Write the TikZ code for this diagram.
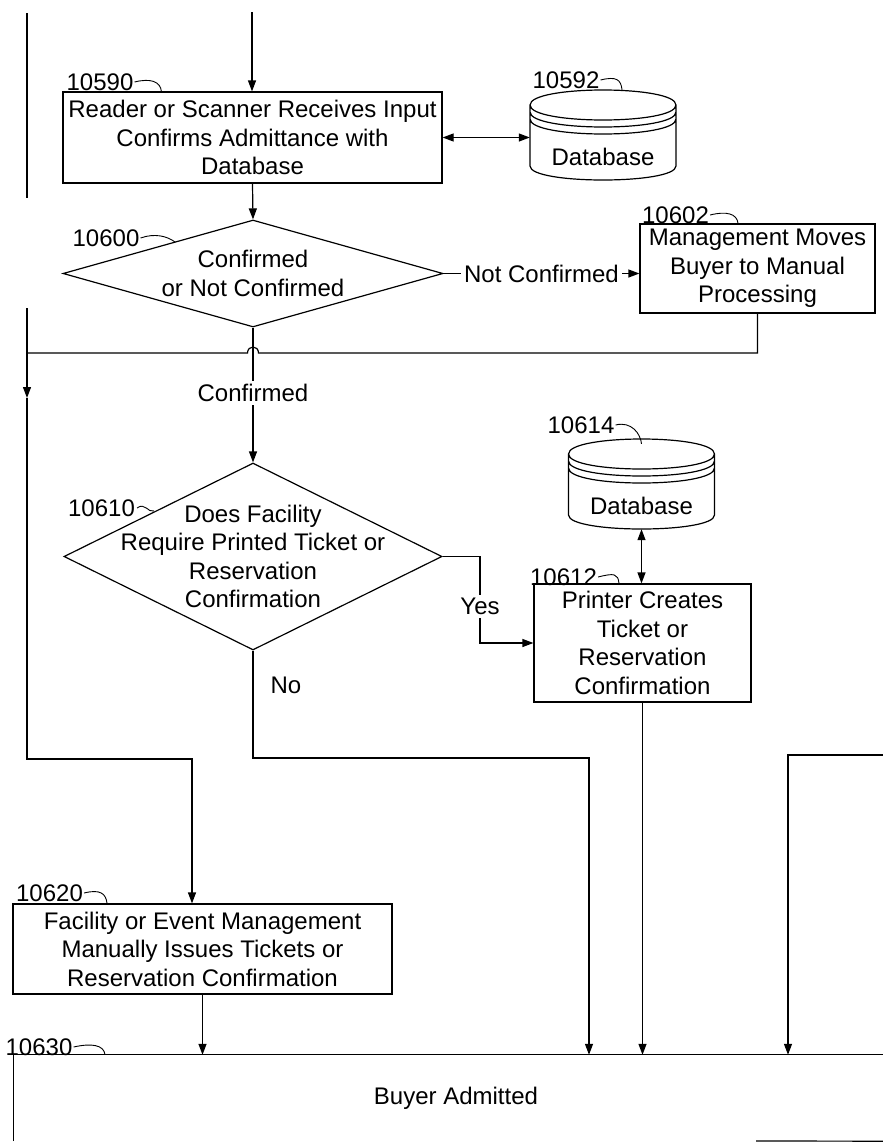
\documentclass[tikz,border=0pt]{standalone}
\usepackage{fontspec}
\setmainfont{Liberation Sans}
\usetikzlibrary{shapes.geometric,arrows.meta}
\begin{document}
\begin{tikzpicture}[x=1pt,y=-1pt,
  every node/.style={font=\fontsize{24}{28.5}\selectfont, inner sep=0pt},
  box/.style={draw, rectangle, line width=1.2pt, align=center},
  dia/.style={draw, diamond, line width=1.2pt, inner sep=0pt},
  ln/.style={line width=1.2pt},
  arr/.style={ln, -{Triangle[length=11pt,width=8pt]}},
  darr/.style={ln, {Triangle[length=11pt,width=8pt]}-{Triangle[length=11pt,width=8pt]}},
  curl/.style={line width=0.9pt},
  lab/.style={fill=white, inner sep=3pt},
  dbcyl/.pic={
    \draw[line width=1.2pt]
      (-73,-30) .. controls (-73,-50) and (73,-50) .. (73,-30)
      (-73,-30) .. controls (-73,-10) and (73,-10) .. (73,-30)
      (-73,-23) .. controls (-73,-3) and (73,-3) .. (73,-23)
      (-73,-16) .. controls (-73,4) and (73,4) .. (73,-16)
      (-73,-30) -- (-73,31)
      (73,-30) -- (73,31)
      (-73,31) .. controls (-73,49.67) and (73,49.67) .. (73,31);
  }
]
\useasboundingbox (0,0) rectangle (883,1143);
\fill[white] (0,0) rectangle (883,1143);

% boxes
\node[box, minimum width=379pt, minimum height=91pt] (b590) at (252.5,137.5)
  {Reader or Scanner Receives Input\\Confirms Admittance with\\Database};
\node[box, minimum width=235pt, minimum height=89pt] (b602) at (757.5,268.5)
  {Management Moves\\Buyer to Manual\\Processing};
\node[box, minimum width=217pt, minimum height=118pt] (b612) at (642.5,643)
  {Printer Creates\\Ticket or\\Reservation\\Confirmation};
\node[box, minimum width=379pt, minimum height=90pt] (b620) at (202.5,949)
  {Facility or Event Management\\Manually Issues Tickets or\\Reservation Confirmation};
\node[minimum width=884pt, minimum height=86pt] (b630) at (456,1098) {Buyer Admitted};
\coordinate (bcut) at (756,1141);
\draw[ln] (b630.south west) -- (b630.north west) -- (b630.north east);
\draw[ln] (bcut) -- (b630.south east);

% diamonds
\node[dia, minimum width=380pt, minimum height=107pt] (d600) at (253,273.5) {};
\node[align=center] (d600t) at (d600) {Confirmed\\or Not Confirmed};
\node[dia, minimum width=378pt, minimum height=187pt] (d610) at (253,556.5) {};
\node[align=center] (d610t) at (d610) {Does Facility\\Require Printed Ticket or\\Reservation\\Confirmation};

% databases
\node[minimum width=146pt, minimum height=90pt] (db592) at (603,135) {};
\pic at (603,135) {dbcyl};
\node (db592t) at (603,157) {Database};
\node[minimum width=146pt, minimum height=90pt] (db614) at (641.5,484) {};
\pic at (641.5,484) {dbcyl};
\node (db614t) at (641.5,506) {Database};

% connectors
\coordinate (in0) at (252,12);
\draw[arr] (in0) -- (in0 |- b590.north);
\coordinate (L0) at (27,13);
\coordinate (L1) at (27,198);
\draw[ln] (L0) -- (L1);
\draw[darr] (b590.east) -- (db592.west |- b590.east);
\draw[arr] (b590.south) -- (d600.north);
\draw[arr] (d600.east) -- node[lab] (ncl) {Not Confirmed} (b602.west |- d600.east);

\coordinate (J) at (27,353);
\draw[ln] (b602.south) -- (b602.south |- J)
  -- ([xshift=5.5pt]d600.south |- J) .. controls +(0,-8) and +(0,-8) .. ([xshift=-5.5pt]d600.south |- J)
  -- (J);

\coordinate (L2) at (27,308);
\coordinate (La) at (27,398);
\coordinate (Lb) at (27,759);
\coordinate (Lc) at (192,759);
\draw[arr] (L2) -- (La);
\draw[arr] (La) -- (Lb) -- (Lc) -- (Lc |- b620.north);

\draw[arr] (d600.south) -- node[lab, pos=0.485] (cfl) {Confirmed} (d610.north);

\coordinate (Y0) at (480,556.5);
\draw[arr] (d610.east) -- (Y0) -- node[lab, pos=0.58] (yes) {Yes} (Y0 |- b612.west) -- (b612.west);

\draw[darr] (db614.south) -- (db614.south |- b612.north);
\draw[arr] (b612.south) -- (b612.south |- b630.north);

\coordinate (N1) at (253,758);
\coordinate (N2) at (589,758);
\draw[arr] (d610.south) -- (N1) -- (N2) -- (N2 |- b630.north);
\node (nol) at (286,685) {No};

\coordinate (R0) at (883,755);
\coordinate (R1) at (788,755);
\draw[arr] (R0) -- (R1) -- (R1 |- b630.north);

\draw[arr] (b620.south) -- (b620.south |- b630.north);

% reference numerals
\node (r590) at (100,82) {10590};
\draw[curl] ([xshift=1pt]r590.east) .. controls +(16,-4) and +(-1,-10) .. ([xshift=99pt]b590.north west);
\node (r592) at (566,80) {10592};
\draw[curl] ([xshift=1pt]r592.east) .. controls +(16,-4) and +(-1,-10) .. ([xshift=19pt]db592.north);
\node (r600) at (106,238) {10600};
\coordinate (c600) at (175,242);
\draw[curl] ([xshift=1pt]r600.east) .. controls +(14,-5) and +(-8,-6) .. (c600);
\node (r602) at (675.5,215) {10602};
\draw[curl] ([xshift=1pt]r602.east) .. controls +(16,-4) and +(-1,-10) .. ([xshift=-19.5pt]b602.north);
\node (r610) at (101.5,508) {10610};
\coordinate (c610) at (154,511);
\draw[curl] ([xshift=2pt]r610.east) .. controls +(8,-6) and +(-6,2) .. (c610);
\node (r612) at (563.5,577) {10612};
\draw[curl] ([xshift=1pt]r612.east) .. controls +(16,-4) and +(-1,-10) .. ([xshift=-23.5pt]b612.north);
\node (r614) at (581,425) {10614};
\draw[curl] ([xshift=1pt]r614.east) .. controls +(16,-4) and +(-1,-10) .. ([yshift=-5pt]db614.north);
\node (r620) at (49.5,893) {10620};
\draw[curl] ([xshift=1pt]r620.east) .. controls +(16,-4) and +(-1,-10) .. ([xshift=-95.5pt]b620.north);
\node (r630) at (39,1047) {10630};
\draw[curl] ([xshift=1pt]r630.east) .. controls +(18,-4) and +(-1,-10) .. ([xshift=-351pt]b630.north);
\end{tikzpicture}
\end{document}
